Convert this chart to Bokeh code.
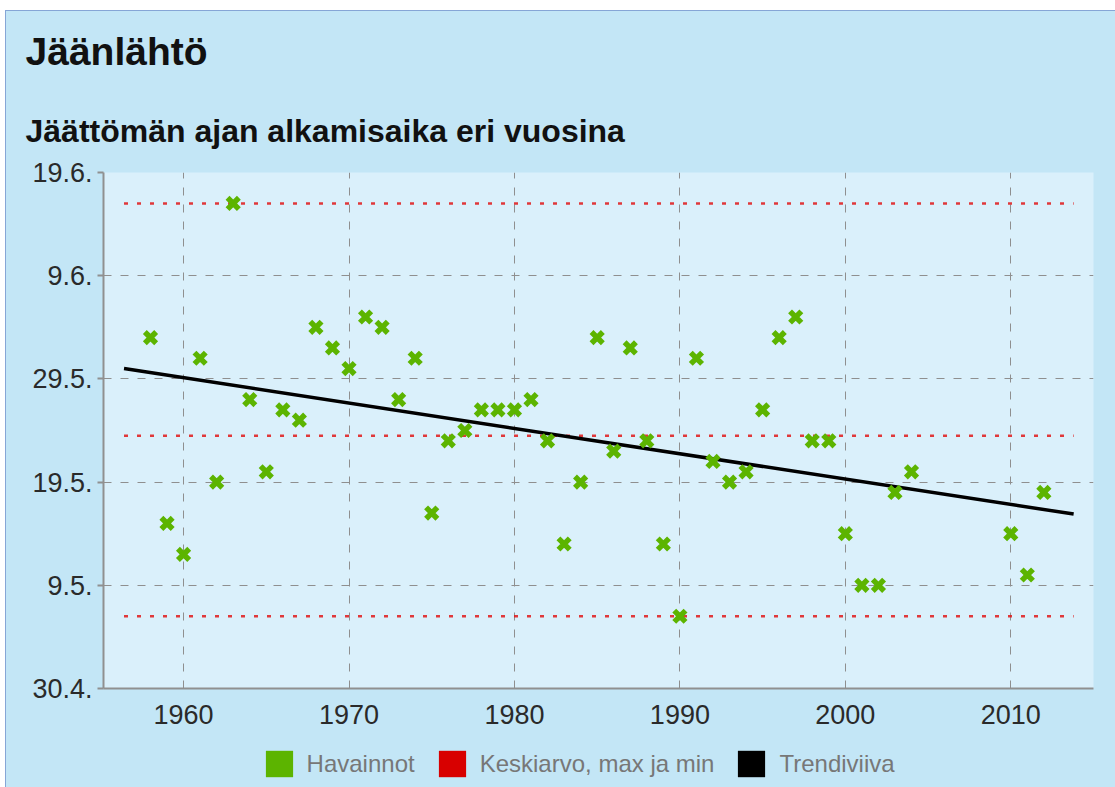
from bokeh.plotting import figure
from bokeh.layouts import column
from bokeh.models import Legend, LegendItem, Range1d, FixedTicker, Title
from bokeh.embed import file_html
from bokeh.resources import INLINE

# Ice-out (jäänlähtö) observations: year and date as days after 30.4.
years = [1958, 1959, 1960, 1961, 1962, 1963, 1964, 1965, 1966, 1967,
         1968, 1969, 1970, 1971, 1972, 1973, 1974, 1975, 1976, 1977,
         1978, 1979, 1980, 1981, 1982, 1983, 1984, 1985, 1986, 1987,
         1988, 1989, 1990, 1991, 1992, 1993, 1994, 1995, 1996, 1997,
         1998, 1999, 2000, 2001, 2002, 2003, 2004, 2010, 2011, 2012]
days = [34, 16, 13, 32, 20, 47, 28, 21, 27, 26,
        35, 33, 31, 36, 35, 28, 32, 17, 24, 25,
        27, 27, 27, 28, 24, 14, 20, 34, 23, 33,
        24, 14, 7, 32, 22, 20, 21, 27, 34, 36,
        24, 24, 15, 10, 10, 19, 21, 15, 11, 19]

# reference lines (mean, max, min) and trend line
ref_x = [1956.4, 2013.8]
mean_day = 24.5
max_day = 47
min_day = 7
trend_x = [1956.4, 2013.8]
trend_y = [31.0, 16.9]

y_ticks = [0, 10, 20, 30, 40, 50]
y_tick_labels = ["30.4.", "9.5.", "19.5.", "29.5.", "9.6.", "19.6."]
x_ticks = [1960, 1970, 1980, 1990, 2000, 2010]

title_text = "Jäänlähtö"
subtitle_text = "Jäättömän ajan alkamisaika eri vuosina"
legend_labels = ["Havainnot", "Keskiarvo, max ja min", "Trendiviiva"]

GREEN = "#5cb400"
RED = "#e01818"
BLACK = "#000000"
FONT = "Liberation Sans"
OUTER = "#c3e6f6"

# layout placed at page (6, 11); frame at page x 103..1093, y 172..688
W = 1109
H1, H2 = 735, 41
FL, FT, FR, FB = 97, 161, 1087, 677
p = figure(width=W, height=H1, output_backend="svg", toolbar_location=None,
           x_range=Range1d(1955.16, 2015.0), y_range=Range1d(0, 50),
           min_border_left=FL, min_border_right=W - FR,
           min_border_top=FT, min_border_bottom=H1 - FB)
p.background_fill_color = "#daf0fb"
p.border_fill_color = OUTER
p.outline_line_color = None

# grid
p.xgrid.ticker = FixedTicker(ticks=x_ticks)
p.ygrid.ticker = FixedTicker(ticks=y_ticks)
for g in (p.xgrid, p.ygrid):
    g.grid_line_color = "#8f8f8f"
    g.grid_line_dash = "8 9"
    g.grid_line_width = 1

# axes
p.xaxis.ticker = FixedTicker(ticks=x_ticks)
p.yaxis.ticker = FixedTicker(ticks=y_ticks)
p.yaxis.major_label_overrides = {t: l for t, l in zip(y_ticks, y_tick_labels)}
for ax in (p.xaxis, p.yaxis):
    ax.axis_line_color = "#909090"
    ax.axis_line_width = 2
    ax.minor_tick_line_color = None
    ax.major_label_text_font = FONT
    ax.major_label_text_color = "#2a2a2a"
    ax.major_label_text_font_size = "27px"
p.xaxis.major_tick_line_color = None
p.xaxis.major_tick_out = 0
p.xaxis.major_tick_in = 0
p.xaxis.major_label_standoff = 16
p.yaxis.major_tick_line_color = "#909090"
p.yaxis.major_tick_line_width = 2
p.yaxis.major_tick_out = 6
p.yaxis.major_tick_in = 0
p.yaxis.major_label_standoff = 5

# reference lines
for v in (max_day, mean_day, min_day):
    p.line(ref_x, [v, v], line_color=RED, line_width=2.5, line_dash="4 9",
           line_alpha=0.85)

# trend
p.line(trend_x, trend_y, line_color=BLACK, line_width=3.5)

# observations
p.scatter(years, days, marker="x", size=16, line_width=5.5, line_color=GREEN)

# titles (subtitle nearest the frame, then title)
p.add_layout(Title(text=subtitle_text, align="left", offset=-78, standoff=48,
                   text_font=FONT, text_font_size="32px", text_font_style="bold",
                   text_color="#111111"), "above")
p.add_layout(Title(text=title_text, align="left", offset=-78, standoff=28,
                   text_font=FONT, text_font_size="39px", text_font_style="bold",
                   text_color="#111111"), "above")

# legend strip: a second figure below the chart (its frame aligns with the chart's)
q = figure(width=W, height=H2, output_backend="svg", toolbar_location=None,
           x_range=Range1d(0, 1), y_range=Range1d(0, 1),
           x_axis_type=None, y_axis_type=None,
           min_border=0, min_border_left=0, min_border_right=0,
           min_border_top=0, min_border_bottom=0)
q.background_fill_color = OUTER
q.background_fill_alpha = 0
q.border_fill_color = OUTER
q.border_fill_alpha = 0
q.outline_line_color = None
q.grid.visible = False
# legend swatches (placed outside the strip's visible range)
r1 = q.quad(left=[2], right=[3], top=[3], bottom=[2], fill_color=GREEN, line_color=None)
r2 = q.quad(left=[2], right=[3], top=[3], bottom=[2], fill_color="#d80000", line_color=None)
r3 = q.quad(left=[2], right=[3], top=[3], bottom=[2], fill_color=BLACK, line_color=None)
legend = Legend(items=[LegendItem(label=legend_labels[0], renderers=[r1]),
                       LegendItem(label=legend_labels[1], renderers=[r2]),
                       LegendItem(label=legend_labels[2], renderers=[r3])],
                orientation="horizontal", location=(158.6, 7),
                glyph_width=34, glyph_height=33, label_standoff=11,
                spacing=20, padding=0, margin=0,
                label_text_font=FONT, label_text_font_size="24px",
                label_text_color="#777777",
                background_fill_alpha=0, border_line_alpha=0)
q.add_layout(legend, "center")

layout = column(p, q, spacing=0)
layout.styles = {"margin-left": "5px", "margin-top": "10px",
                 "background-color": OUTER,
                 "border-left": "1px solid #86a6d6",
                 "border-top": "1px solid #86a6d6"}

open("out.html", "w").write(file_html(layout, INLINE))
